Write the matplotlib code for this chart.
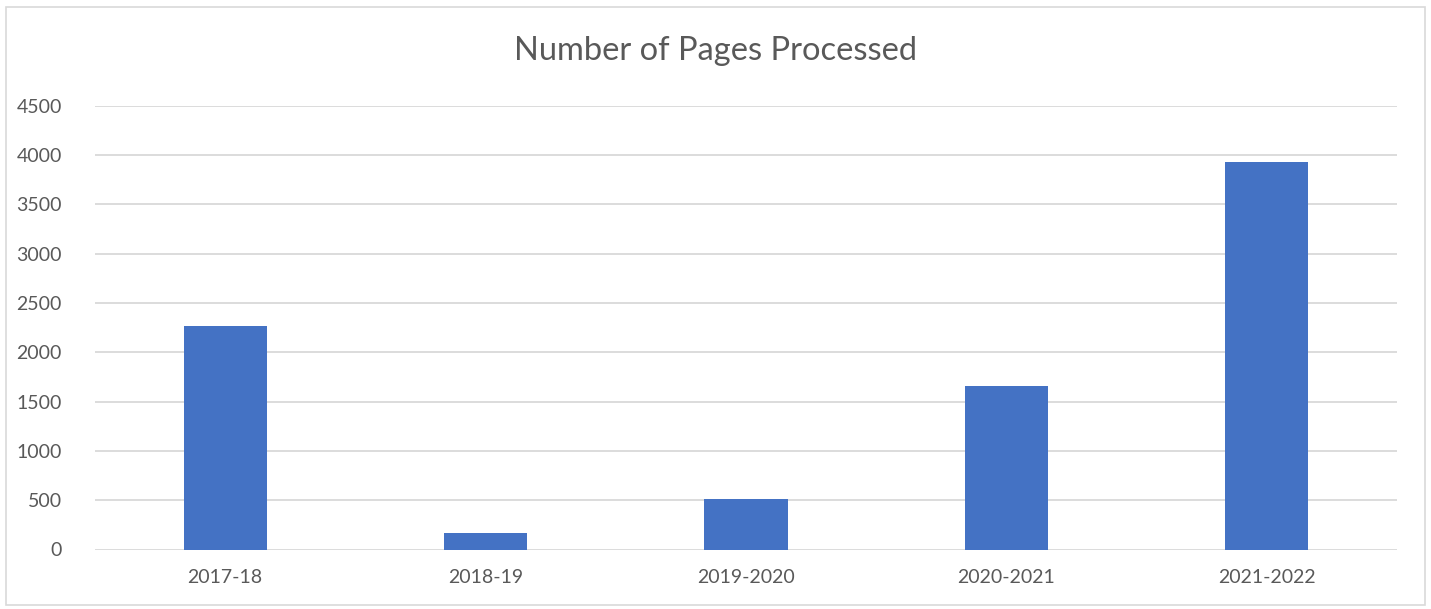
import matplotlib
matplotlib.use("Agg")
import matplotlib.pyplot as plt
from matplotlib.patches import Rectangle

# data
years = ["2017-18", "2018-19", "2019-2020", "2020-2021", "2021-2022"]
pages = [2267, 165, 510, 1658, 3930]
yticks = [0, 500, 1000, 1500, 2000, 2500, 3000, 3500, 4000, 4500]

plt.rcParams['font.family'] = ['Lato', 'DejaVu Sans']
txt = '#595959'

W, H = 1431, 609
fig = plt.figure(figsize=(W / 100, H / 100), dpi=100)

# outer chart border
fig.patches.append(Rectangle((6 / W, 4 / H), 1419 / W, 598 / H, transform=fig.transFigure,
                             fill=False, edgecolor='#d9d9d9', linewidth=1.2))

ax = fig.add_axes([95 / W, (H - 549.5) / H, (1397 - 95) / W, (549.5 - 105.7) / H])
x = range(len(years))
ax.bar(x, pages, width=0.32, color='#4472c4', zorder=3)

ax.set_xlim(-0.5, len(years) - 0.5)
ax.set_ylim(0, 4500)
ax.set_yticks(yticks)
ax.set_xticks(list(x))
ax.set_xticklabels(years)
ax.grid(axis='y', color='#d9d9d9', linewidth=1.3, zorder=0)
for s in ax.spines.values():
    s.set_visible(False)
ax.tick_params(length=0, labelsize=14, colors=txt)
ax.tick_params(axis='x', pad=14)
ax.tick_params(axis='y', pad=24)

fig.text(0.5, (H - 51) / H, "Number of Pages Processed", ha='center', va='center',
         fontsize=23.5, color=txt)

fig.savefig("out.png", dpi=100)
